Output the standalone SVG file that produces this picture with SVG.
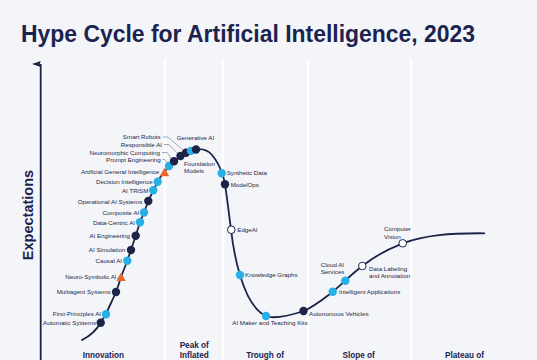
<svg xmlns="http://www.w3.org/2000/svg" width="537" height="360" viewBox="0 0 537 360">
<style>
.bg{fill:#f4f5f8}
.div{stroke:#ffffff;stroke-width:2.5}
.title{font-family:"Liberation Sans",Arial,sans-serif;font-weight:bold;font-size:23px;fill:#1b2350}
.axis-t{font-family:"Liberation Sans",Arial,sans-serif;font-weight:bold;font-size:14.5px;fill:#1b2350}
.phase{font-family:"Liberation Sans",Arial,sans-serif;font-weight:bold;font-size:8.2px;fill:#1b2350;text-anchor:middle}
.lbl{font-family:"Liberation Sans",Arial,sans-serif;font-size:6.2px;fill:#1c2547}
.end{text-anchor:end}
.dk{fill:#1c2547}
.lb{fill:#27b0e6}
.ho{fill:#ffffff;stroke:#1c2547;stroke-width:1}
.tri{fill:#e8692c}
.curve{fill:none;stroke:#1c2547;stroke-width:1.8;stroke-linecap:round;stroke-linejoin:round}
.lead{fill:none;stroke:#6b7080;stroke-width:0.6}
</style>
<defs>
<marker id="arr" markerWidth="8" markerHeight="10" refX="4" refY="9" orient="auto" markerUnits="userSpaceOnUse">
<path d="M4,0 L7,9 L4,8 L1,9 Z" fill="#1c2547"/>
</marker>
</defs>
<rect class="bg" x="0" y="0" width="537" height="360"/>
<g id="dividers">
<line class="div" x1="165" y1="60" x2="165" y2="360"/>
<line class="div" x1="223" y1="60" x2="223" y2="360"/>
<line class="div" x1="308" y1="60" x2="308" y2="360"/>
<line class="div" x1="411" y1="60" x2="411" y2="360"/>
</g>
<text class="title" x="21" y="42" textLength="454" lengthAdjust="spacingAndGlyphs">Hype Cycle for Artificial Intelligence, 2023</text>
<g id="axis">
<line x1="40.7" y1="360" x2="40.7" y2="64" stroke="#1c2547" stroke-width="1.8" marker-end="url(#arr)"/>
<text class="axis-t" transform="translate(33,215) rotate(-90)" text-anchor="middle">Expectations</text>
</g>
<g id="connectors">
<path class="curve" d="M82,340 C90,336 97,329 100.7,322.7 L106,314 C109,307 113,299 116,292 C118,287 119.5,282 121,277 L127.3,260.7 L131,250 L135.7,235.7 L140,222.3 L144,212.5 L148.3,201 L153.3,190.3 L157.7,181.7 C160,177 162,174.5 164,172.3 C166,170 167,168 169,166 C171,164 172,163 174,161.3 C177,159 179,157 180.5,156 C182,155 184,153.5 186,152.7 C187.5,152 189,151.2 191,150.7 C193,150 194.5,149.5 196,149.3 C203,148.5 208,150 212,155 C217,161 220,167 222,173.3 C223.5,177 224.5,181 225,184.3 C227,197 229,214 231,229.5 C233,247 236,262 240,275 C245,292 253,310 266,316 C272,318.5 282,318 304,311 C315,306 326,297 333,291.7 C337,288 341,284.5 345.3,280.7 C350,276 356,271 362.3,266 C375,256 388,249 402.7,243.3 C425,235 450,233 484.3,233.3"/>
<path class="lead" d="M163,137 H168 L183.5,150.5"/>
<path class="lead" d="M164,144.5 H169 L177.5,153.5"/>
<path class="lead" d="M162,152.5 H167 L171.5,158.5"/>
<path class="lead" d="M162.5,159.5 H165 L167,163"/>
</g>
<g id="automatic-systems"><circle class="dk" cx="100.7" cy="322.7" r="4.2"/><text class="lbl end" x="96" y="324.5">Automatic Systems</text></g>
<g id="first-principles-ai"><circle class="lb" cx="106" cy="314.3" r="4.2"/><text class="lbl end" x="101" y="315.8">First-Principles AI</text></g>
<g id="multiagent-systems"><circle class="dk" cx="116" cy="292" r="4.2"/><text class="lbl end" x="110.7" y="294">Multiagent Systems</text></g>
<g id="neuro-symbolic-ai"><polygon class="tri" points="121,272.5 125.8,281 116.2,281"/><text class="lbl end" x="116.5" y="279">Neuro-Symbolic AI</text></g>
<g id="causal-ai"><circle class="lb" cx="127.3" cy="260.7" r="4.2"/><text class="lbl end" x="122" y="263">Causal AI</text></g>
<g id="ai-simulation"><circle class="dk" cx="131" cy="250" r="4.2"/><text class="lbl end" x="125.3" y="251.5">AI Simulation</text></g>
<g id="ai-engineering"><circle class="dk" cx="135.7" cy="235.7" r="4.2"/><text class="lbl end" x="130" y="237.5">AI Engineering</text></g>
<g id="data-centric-ai"><circle class="lb" cx="140" cy="222.3" r="4.2"/><text class="lbl end" x="135" y="224.5">Data-Centric AI</text></g>
<g id="composite-ai"><circle class="lb" cx="144" cy="212.5" r="4.2"/><text class="lbl end" x="139.3" y="214.5">Composite AI</text></g>
<g id="operational-ai-systems"><circle class="dk" cx="148.3" cy="201" r="4.2"/><text class="lbl end" x="142.3" y="203.5">Operational AI Systems</text></g>
<g id="ai-trism"><circle class="lb" cx="153.3" cy="190.3" r="4.2"/><text class="lbl end" x="148.3" y="192.5">AI TRiSM</text></g>
<g id="decision-intelligence"><circle class="lb" cx="157.7" cy="181.7" r="4.2"/><text class="lbl end" x="152.7" y="184">Decision Intelligence</text></g>
<g id="artificial-general-intelligence"><polygon class="tri" points="164.5,167.8 169.3,176.3 159.7,176.3"/><text class="lbl end" x="159.3" y="174">Artificial General Intelligence</text></g>
<g id="prompt-engineering"><circle class="lb" cx="169" cy="166" r="4.2"/><text class="lbl end" x="160.7" y="161.5">Prompt Engineering</text></g>
<g id="neuromorphic-computing"><circle class="dk" cx="174" cy="161.3" r="4.2"/><text class="lbl end" x="160" y="154.5">Neuromorphic Computing</text></g>
<g id="responsible-ai"><circle class="dk" cx="180.5" cy="156" r="4.2"/><text class="lbl end" x="162" y="146.5">Responsible AI</text></g>
<g id="smart-robots"><circle class="dk" cx="186" cy="152.7" r="4.2"/><text class="lbl end" x="160.7" y="139">Smart Robots</text></g>
<g id="foundation-models"><circle class="lb" cx="191" cy="150.9" r="4.2"/><text class="lbl" x="184" y="165.5">Foundation</text><text class="lbl" x="184" y="172.5">Models</text></g>
<g id="generative-ai"><circle class="dk" cx="196" cy="149.5" r="4.2"/><text class="lbl" x="176.7" y="139.5">Generative AI</text></g>
<g id="synthetic-data"><circle class="lb" cx="221.7" cy="173.3" r="4.2"/><text class="lbl" x="226.7" y="174.8">Synthetic Data</text></g>
<g id="modelops"><circle class="dk" cx="225" cy="184.3" r="4.2"/><text class="lbl" x="230.7" y="187.3">ModelOps</text></g>
<g id="edgeai"><circle class="ho" cx="231.3" cy="229.8" r="3.8"/><text class="lbl" x="237.3" y="232.3">EdgeAI</text></g>
<g id="knowledge-graphs"><circle class="lb" cx="240" cy="275" r="4.2"/><text class="lbl" x="245" y="277.3">Knowledge Graphs</text></g>
<g id="ai-maker-and-teaching-kits"><circle class="lb" cx="266" cy="316" r="4.2"/><text class="lbl" x="232.3" y="325">AI Maker and Teaching Kits</text></g>
<g id="autonomous-vehicles"><circle class="dk" cx="303.5" cy="311" r="4.2"/><text class="lbl" x="309" y="315.5">Autonomous Vehicles</text></g>
<g id="intelligent-applications"><circle class="lb" cx="332.7" cy="291.7" r="4.2"/><text class="lbl" x="339" y="294.3">Intelligent Applications</text></g>
<g id="cloud-ai-services"><circle class="lb" cx="345.3" cy="280.7" r="4.2"/><text class="lbl" x="320.7" y="266.5">Cloud AI</text><text class="lbl" x="320.7" y="274.3">Services</text></g>
<g id="data-labeling-and-annotation"><circle class="ho" cx="362.3" cy="266" r="3.8"/><text class="lbl" x="369" y="271">Data Labeling</text><text class="lbl" x="369" y="278">and Annotation</text></g>
<g id="computer-vision"><circle class="ho" cx="402.7" cy="243.3" r="3.8"/><text class="lbl" x="384" y="231">Computer</text><text class="lbl" x="384" y="238.5">Vision</text></g>
<g id="phases">
<text class="phase" x="103.4" y="357.5">Innovation</text>
<text class="phase" x="194.2" y="347.5">Peak of</text>
<text class="phase" x="194.2" y="357.5">Inflated</text>
<text class="phase" x="265" y="357.5">Trough of</text>
<text class="phase" x="358.7" y="357.5">Slope of</text>
<text class="phase" x="464.5" y="357.5">Plateau of</text>
</g>
</svg>
